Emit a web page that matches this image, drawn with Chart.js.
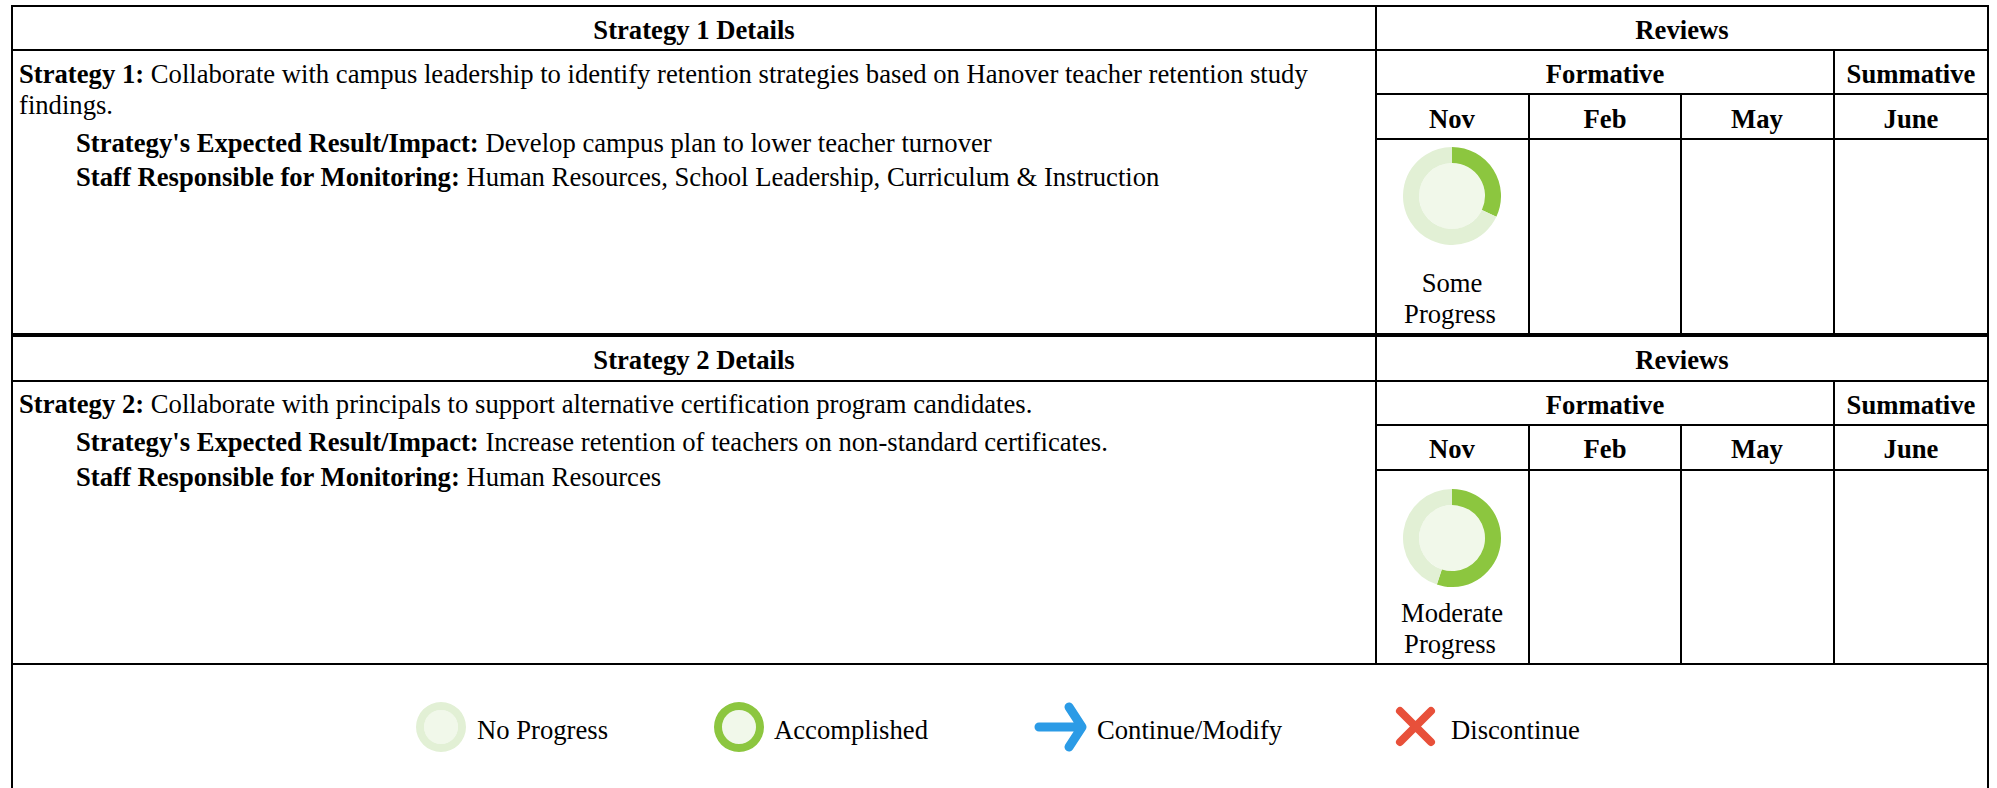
<!DOCTYPE html>
<html>
<head>
<meta charset="utf-8">
<script src="https://cdn.jsdelivr.net/npm/chart.js@4"></script>
<style>
html,body{margin:0;padding:0;background:#fff;width:1997px;height:788px;overflow:hidden}
#page{position:relative;width:1997px;height:788px;font-family:"Liberation Serif",serif;font-size:26.67px;color:#000}
.t{position:absolute;white-space:pre;line-height:30px;height:30px}
.c{transform:translateX(-50%)}
.l{position:absolute;background:#000}
canvas{position:absolute}
svg{position:absolute;left:0;top:0}
b{font-weight:bold}
</style>
</head>
<body>
<div id="page"></div>
<script>
// Progress values
const progressLabels = ["Complete", "Remaining"];
const strategy1Nov = [32, 68];
const strategy2Nov = [55, 45];
const legendNoProgress = [0, 100];
const legendAccomplished = [100, 0];
const reviewMonths = ["Nov", "Feb", "May", "June"];
const reviewGroups = ["Formative", "Summative"];
const legendLabels = ["No Progress", "Accomplished", "Continue/Modify", "Discontinue"];

const GREEN = "#8cc63f", TRACK = "#e2f0d5", CORE = "#f1f8ea";
const page = document.getElementById("page");

function text(html, x, baseline, center) {
  const d = document.createElement("div");
  d.className = "t" + (center ? " c" : "");
  d.style.left = x + "px";
  d.style.top = (baseline - 23) + "px";
  d.innerHTML = html;
  page.appendChild(d);
}
function line(x, y, w, h) {
  const d = document.createElement("div");
  d.className = "l";
  d.style.cssText = `left:${x}px;top:${y}px;width:${w}px;height:${h}px`;
  page.appendChild(d);
}
function donut(values, cx, cy, r, coreR) {
  const c = document.createElement("canvas");
  const size = r * 2;
  c.width = size; c.height = size;
  c.style.cssText = `left:${cx - r}px;top:${cy - r}px;width:${size}px;height:${size}px`;
  page.appendChild(c);
  new Chart(c, {
    type: "doughnut",
    data: {
      labels: progressLabels,
      datasets: [
        { data: values, backgroundColor: [GREEN, TRACK], borderWidth: 0, weight: r - coreR },
        { data: [100], backgroundColor: [CORE], borderWidth: 0, weight: coreR }
      ]
    },
    options: {
      responsive: false, animation: false, cutout: 0,
      layout: { padding: 0 },
      plugins: { legend: { display: false }, tooltip: { enabled: false } }
    }
  });
}

// Grid
line(11, 5, 1978, 2);            // top
line(11, 5, 2, 783);             // left
line(1987, 5, 2, 783);           // right
line(1375, 5, 2, 660);           // main divider
[0, 330].forEach((off, i) => {
  const dy = i ? 1 : 0;
  line(12, 49 + off + dy - (i ? 0 : 0), 1976, 2);
  line(1376, 93 + off + dy, 612, 2);
  line(1376, 138 + off + dy, 612, 2);
  line(1833, 50 + off + dy, 2, i ? 284 : 284);
  line(1528, 94 + off + dy, 2, 240);
  line(1680, 94 + off + dy, 2, 240);
});
line(12, 333, 1976, 4);
line(12, 663, 1976, 2);

// Header rows
function header(n, bBase, bForm, bMon) {
  text(`<b>Strategy ${n} Details</b>`, 694, bBase, true);
  text("<b>Reviews</b>", 1682, bBase, true);
  text(`<b>${reviewGroups[0]}</b>`, 1605, bForm, true);
  text(`<b>${reviewGroups[1]}</b>`, 1911, bForm, true);
  [1452, 1605, 1757, 1911].forEach((x, i) => text(`<b>${reviewMonths[i]}</b>`, x, bMon, true));
}
header(1, 38, 82, 127);
header(2, 368, 413, 457);

// Strategy 1
text("<b>Strategy 1:</b> Collaborate with campus leadership to identify retention strategies based on Hanover teacher retention study", 19, 82);
text("findings.", 19, 113);
text("<b>Strategy's Expected Result/Impact:</b> Develop campus plan to lower teacher turnover", 76, 151);
text("<b>Staff Responsible for Monitoring:</b> Human Resources, School Leadership, Curriculum &amp; Instruction", 76, 185);
text("Some", 1452, 291, true);
text("Progress", 1450, 322, true);

// Strategy 2
text("<b>Strategy 2:</b> Collaborate with principals to support alternative certification program candidates.", 19, 412);
text("<b>Strategy's Expected Result/Impact:</b> Increase retention of teachers on non-standard certificates.", 76, 450);
text("<b>Staff Responsible for Monitoring:</b> Human Resources", 76, 485);
text("Moderate", 1452, 621, true);
text("Progress", 1450, 652, true);

// Doughnuts
donut(strategy1Nov, 1452, 196, 49, 33);
donut(strategy2Nov, 1452, 538, 49, 33);
donut(legendNoProgress, 441, 727, 25, 17);
donut(legendAccomplished, 739, 727, 25, 17);

// Legend
text(legendLabels[0], 477, 738);
text(legendLabels[1], 774, 738);
text(legendLabels[2], 1097, 738);
text(legendLabels[3], 1451, 738);

const ns = "http://www.w3.org/2000/svg";
const svg = document.createElementNS(ns, "svg");
svg.setAttribute("width", 1997); svg.setAttribute("height", 788);
svg.innerHTML =
  '<path d="M1039 727H1082M1069 707L1082 727L1069 747" fill="none" stroke="#2b9be6" stroke-width="9" stroke-linecap="round" stroke-linejoin="round"/>' +
  '<path d="M1400 711L1431 742M1431 711L1400 742" fill="none" stroke="#e8503a" stroke-width="8" stroke-linecap="round"/>';
page.appendChild(svg);
</script>
</body>
</html>
